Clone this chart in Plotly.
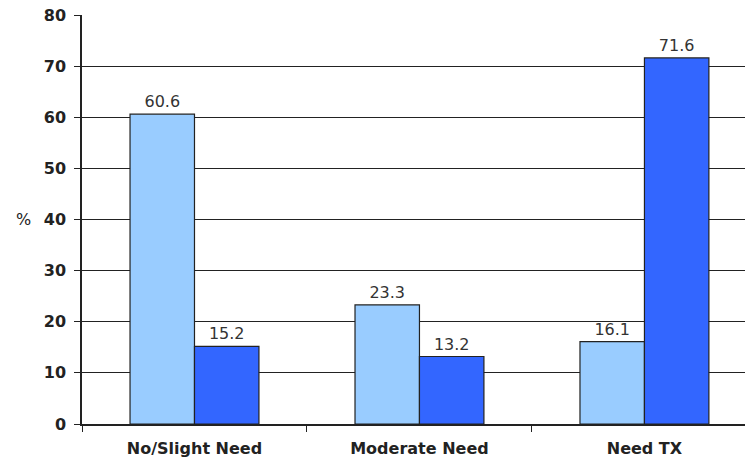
import plotly.graph_objects as go

categories = ["No/Slight Need", "Moderate Need", "Need TX"]
series_a = [60.6, 23.3, 16.1]
series_b = [15.2, 13.2, 71.6]
y_ticks = [0, 10, 20, 30, 40, 50, 60, 70, 80]

FONT = "DejaVu Sans"

fig = go.Figure()
fig.add_trace(go.Bar(
    x=categories, y=series_a, marker=dict(color="#99CCFF", line=dict(color="#222222", width=1.2)),
    text=[f"{v:.1f}" for v in series_a], textposition="outside", cliponaxis=False,
    textfont=dict(family=FONT, size=16, color="#333333"),
))
fig.add_trace(go.Bar(
    x=categories, y=series_b, marker=dict(color="#3366FF", line=dict(color="#222222", width=1.2)),
    text=[f"{v:.1f}" for v in series_b], textposition="outside", cliponaxis=False,
    textfont=dict(family=FONT, size=16, color="#333333"),
))

fig.update_layout(
    width=745, height=458,
    margin=dict(l=82, r=0, t=15, b=34),
    paper_bgcolor="white", plot_bgcolor="white",
    barmode="group", bargap=0.427, bargroupgap=0,
    showlegend=False,
    font=dict(family=FONT, color="#222222"),
    annotations=[dict(text="%", x=(23 - 82) / (745 - 82), y=40, xref="paper", yref="y",
                      xanchor="center", yanchor="middle", showarrow=False,
                      font=dict(size=16, family=FONT, color="#222222"))],
)
fig.update_xaxes(
    range=[-0.5, 2.447], showline=True, linecolor="#222222", linewidth=1.5,
    ticks="outside", tickson="boundaries", ticklen=6, tickcolor="#222222",
    ticklabelstandoff=9,
    tickfont=dict(size=16, family=FONT, color="#222222", weight="bold"),
    showgrid=False,
)
fig.update_yaxes(
    range=[0, 80], tickvals=y_ticks, showline=True, linecolor="#222222", linewidth=1.5,
    ticks="outside", ticklen=6, tickcolor="#222222", ticklabelstandoff=5,
    showgrid=True, gridcolor="#222222", gridwidth=1.2,
    tickfont=dict(size=16, family=FONT, color="#222222", weight="bold"),
    zeroline=False,
)

fig.write_html("out.html")
